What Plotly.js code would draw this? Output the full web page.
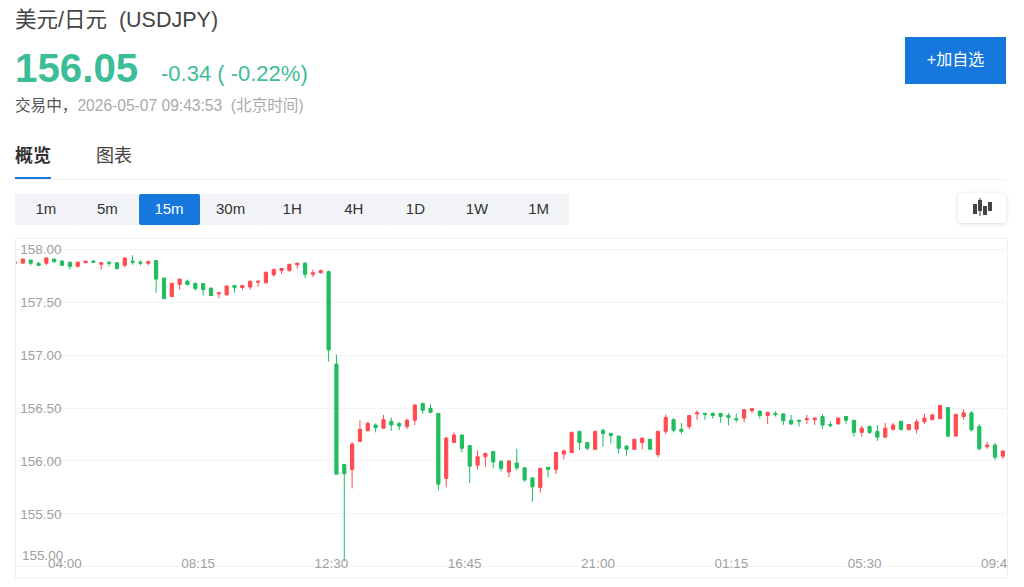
<!DOCTYPE html>
<html><head><meta charset="utf-8">
<script src="https://cdn.plot.ly/plotly-3.0.1.min.js"></script>
<style>
html,body{margin:0;padding:0;background:#fff;width:1024px;height:587px;overflow:hidden;font-family:"Liberation Sans","Noto Sans CJK SC",sans-serif}
.t{position:absolute;white-space:pre;line-height:1}
#plot{position:absolute;left:0;top:0;width:1024px;height:587px}
.strip{position:absolute;left:15px;top:194px;width:554px;height:31px;background:#f6f7f9;border-radius:2px}
.btn{position:absolute;top:194px;height:31px;width:61px;background:#f2f4f7;color:#333;font-size:15px;line-height:30px;text-align:center}
.sel{background:#1677dd;color:#fff;border-radius:2px}
</style></head><body>
<div id="plot"></div>
<div style="position:absolute;left:1008px;top:230px;width:16px;height:357px;background:#fff"></div>
<div class="t" style="left:15px;top:10px;font-size:21.5px;color:#444">美元/日元  (USDJPY)</div>
<div class="t" style="left:15px;top:49px;font-size:40.3px;font-weight:bold;color:#3dbd97">156.05</div>
<div class="t" style="left:161px;top:63px;font-size:22px;color:#3dbd97">-0.34 ( -0.22%)</div>
<div class="t" style="left:15px;top:98px;font-size:15.6px;color:#555">交易中，<span style="color:#aaa">2026-05-07 09:43:53  (北京时间)</span></div>
<div class="t" style="left:15px;top:147px;font-size:18px;font-weight:bold;color:#333">概览</div>
<div class="t" style="left:96px;top:147px;font-size:18px;color:#444">图表</div>
<div style="position:absolute;left:15px;top:177px;width:36px;height:2.5px;background:#1677dd"></div>
<div style="position:absolute;left:15px;top:179px;width:991px;height:1px;background:#f2f2f2"></div>
<div style="position:absolute;left:905px;top:37px;width:101px;height:47px;background:#1677dd;color:#fff;font-size:16px;line-height:46px;text-align:center">+加自选</div>
<div class="strip"></div>
<div id="periods"></div>
<div style="position:absolute;left:958px;top:193px;width:48px;height:30px;background:#fff;border-radius:3px;box-shadow:0 1px 4px rgba(0,0,0,.15)">
<svg width="48" height="30" style="position:absolute;left:0;top:0"><g fill="#444"><rect x="15" y="11" width="4" height="10"/><rect x="20" y="7" width="4" height="11"/><rect x="21.5" y="5" width="1" height="18"/><rect x="25" y="13" width="4" height="9"/><rect x="30" y="9" width="4" height="9"/></g></svg></div>
<script>
const periods = ["1m","5m","15m","30m","1H","4H","1D","1W","1M"];
const selectedPeriod = "15m";
const tickCandles = [7,24,41,58,75,92,109,126];
const tickLabels = ["04:00","08:15","12:30","16:45","21:00","01:15","05:30","09:45"];
const priceTicks = [155,155.5,156,156.5,157,157.5,158];
const priceLabels = ["","155.50","156.00","156.50","157.00","157.50","158.00"];

const opens = [
157.87,157.87,157.90,157.87,157.87,157.91,157.89,157.88,157.84,157.875,
157.89,157.86,157.88,157.875,157.85,157.89,157.88,157.87,157.895,157.73,
157.555,157.67,157.70,157.677,157.677,157.635,157.58,157.57,157.66,157.64,
157.645,157.69,157.685,157.76,157.80,157.80,157.855,157.87,157.765,157.78,
157.79,156.916,155.967,155.92,156.185,156.285,156.34,156.31,156.375,156.355,
156.325,156.385,156.545,156.495,156.45,155.835,156.175,156.245,156.145,155.96,
156.04,156.09,155.995,155.895,155.98,155.935,155.84,155.75,155.94,155.92,
156.065,156.08,156.28,156.175,156.11,156.29,156.26,156.235,156.14,156.11,
156.175,156.205,156.06,156.28,156.39,156.30,156.325,156.445,156.45,156.45,
156.45,156.43,156.40,156.405,156.475,156.47,156.43,156.45,156.445,156.385,
156.385,156.39,156.39,156.42,156.345,156.35,156.42,156.385,156.27,156.325,
156.28,156.225,156.30,156.375,156.295,156.30,156.37,156.39,156.40,156.505,
156.235,156.42,156.455,156.325,156.135,156.15,156.045];
const highs = [
157.885,157.91,157.90,157.88,157.92,157.91,157.90,157.88,157.88,157.89,
157.90,157.875,157.885,157.88,157.92,157.945,157.90,157.895,157.895,157.73,
157.68,157.72,157.715,157.69,157.68,157.635,157.595,157.655,157.66,157.66,
157.70,157.70,157.785,157.82,157.82,157.86,157.875,157.88,157.81,157.81,
157.80,157.005,155.97,156.18,156.385,156.37,156.355,156.435,156.41,156.37,
156.40,156.53,156.545,156.535,156.45,156.23,156.27,156.25,156.15,156.10,
156.08,156.09,156.01,156.005,156.115,155.94,155.84,155.93,155.945,156.085,
156.11,156.28,156.28,156.175,156.28,156.305,156.265,156.24,156.15,156.21,
156.225,156.205,156.28,156.44,156.405,156.36,156.43,156.48,156.455,156.46,
156.45,156.455,156.445,156.49,156.50,156.48,156.465,156.47,156.45,156.435,
156.39,156.435,156.41,156.445,156.375,156.41,156.425,156.385,156.33,156.335,
156.34,156.36,156.36,156.375,156.345,156.395,156.445,156.445,156.525,156.51,
156.445,156.49,156.47,156.35,156.18,156.17,156.095];
const lows = [
157.865,157.87,157.85,157.85,157.85,157.87,157.85,157.81,157.83,157.87,
157.87,157.81,157.84,157.81,157.83,157.855,157.85,157.85,157.59,157.53,
157.55,157.62,157.66,157.61,157.565,157.565,157.54,157.57,157.59,157.615,
157.62,157.645,157.68,157.745,157.77,157.79,157.82,157.73,157.74,157.77,
156.94,155.875,155.05,155.74,156.18,156.28,156.27,156.305,156.285,156.29,
156.30,156.34,156.445,156.45,155.72,155.75,156.17,156.08,155.79,155.92,
155.945,155.93,155.90,155.845,155.91,155.805,155.615,155.70,155.845,155.875,
156.015,156.08,156.105,156.10,156.11,156.135,156.165,156.07,156.05,156.105,
156.11,156.11,156.035,156.255,156.27,156.255,156.30,156.39,156.39,156.40,
156.36,156.335,156.365,156.365,156.45,156.40,156.35,156.42,156.34,156.34,
156.325,156.35,156.34,156.305,156.315,156.345,156.35,156.23,156.23,156.255,
156.19,156.225,156.285,156.295,156.295,156.26,156.35,156.39,156.40,156.22,
156.235,156.39,156.28,156.10,156.115,156.01,156.02];
const closes = [
157.88,157.91,157.87,157.85,157.92,157.885,157.85,157.84,157.88,157.89,
157.88,157.875,157.87,157.82,157.92,157.88,157.87,157.885,157.72,157.535,
157.68,157.72,157.67,157.63,157.62,157.565,157.59,157.655,157.64,157.66,
157.70,157.70,157.785,157.81,157.82,157.86,157.87,157.765,157.78,157.80,
157.05,155.875,155.88,156.16,156.30,156.355,156.315,156.39,156.34,156.33,
156.385,156.53,156.48,156.46,155.78,156.215,156.245,156.12,155.95,156.04,
156.07,155.99,155.93,156.00,155.935,155.82,155.755,155.93,155.92,156.08,
156.095,156.27,156.175,156.12,156.28,156.26,156.24,156.12,156.11,156.205,
156.215,156.11,156.28,156.41,156.29,156.28,156.43,156.455,156.44,156.43,
156.42,156.41,156.39,156.485,156.495,156.43,156.46,156.44,156.38,156.35,
156.375,156.40,156.405,156.34,156.335,156.405,156.385,156.27,156.31,156.27,
156.225,156.31,156.34,156.295,156.345,156.37,156.405,156.435,156.525,156.235,
156.44,156.455,156.295,156.115,156.15,156.035,156.095];
const candleIndex = opens.map((_, i) => i);

const wrap = document.getElementById('periods');
periods.forEach((p, i) => {
  const d = document.createElement('div');
  d.className = 'btn' + (p === selectedPeriod ? ' sel' : '');
  d.style.left = (15.3 + i * 61.6) + 'px';
  d.textContent = p;
  wrap.appendChild(d);
});

const lineCol = '#f0f0f0', textCol = '#a0a0a0';
Plotly.newPlot('plot', [{
  type: 'candlestick', x: candleIndex, open: opens, high: highs, low: lows, close: closes,
  whiskerwidth: 0, hoverinfo: 'skip',
  increasing: {line: {color: '#ff4a50', width: 1}, fillcolor: '#ff4a50'},
  decreasing: {line: {color: '#20bd5e', width: 1}, fillcolor: '#20bd5e'}
}], {
  width: 1024, height: 587, showlegend: false, boxgap: 0.42,
  paper_bgcolor: 'rgba(0,0,0,0)', plot_bgcolor: 'rgba(0,0,0,0)',
  margin: {l: 16, r: 17, t: 239, b: 9, pad: 0},
  font: {family: 'Liberation Sans, Arial, sans-serif', size: 13.5, color: textCol},
  xaxis: {range: [0.128, 126.53], rangeslider: {visible: false}, showgrid: false, zeroline: false,
    tickmode: 'array', tickvals: tickCandles, ticktext: tickLabels, ticks: '',
    ticklabelposition: 'inside', ticklabeloverflow: 'allow', ticklabelshift: -5, ticklabelstandoff: 7,
    showline: true, linecolor: lineCol, linewidth: 1, mirror: true, tickfont: {size: 13.5, color: textCol}},
  yaxis: {range: [154.893, 158.099], showgrid: true, gridcolor: '#f4f4f4', gridwidth: 1, zeroline: false,
    tickmode: 'array', tickvals: priceTicks, ticktext: priceLabels, ticks: '',
    ticklabelposition: 'inside', ticklabeloverflow: 'allow', ticklabelstandoff: 4,
    ticklabelshift: 0.5,
    showline: true, linecolor: lineCol, linewidth: 1, mirror: true,
    tickfont: {size: 13.5, color: textCol}},
  annotations: [{xref: 'paper', yref: 'y', x: 0, y: 155, text: '155.00', showarrow: false, xanchor: 'left',
    xshift: 4, yshift: 11.5, font: {size: 13.5, color: textCol}}]
}, {displayModeBar: false, staticPlot: true});
</script>
</body></html>
